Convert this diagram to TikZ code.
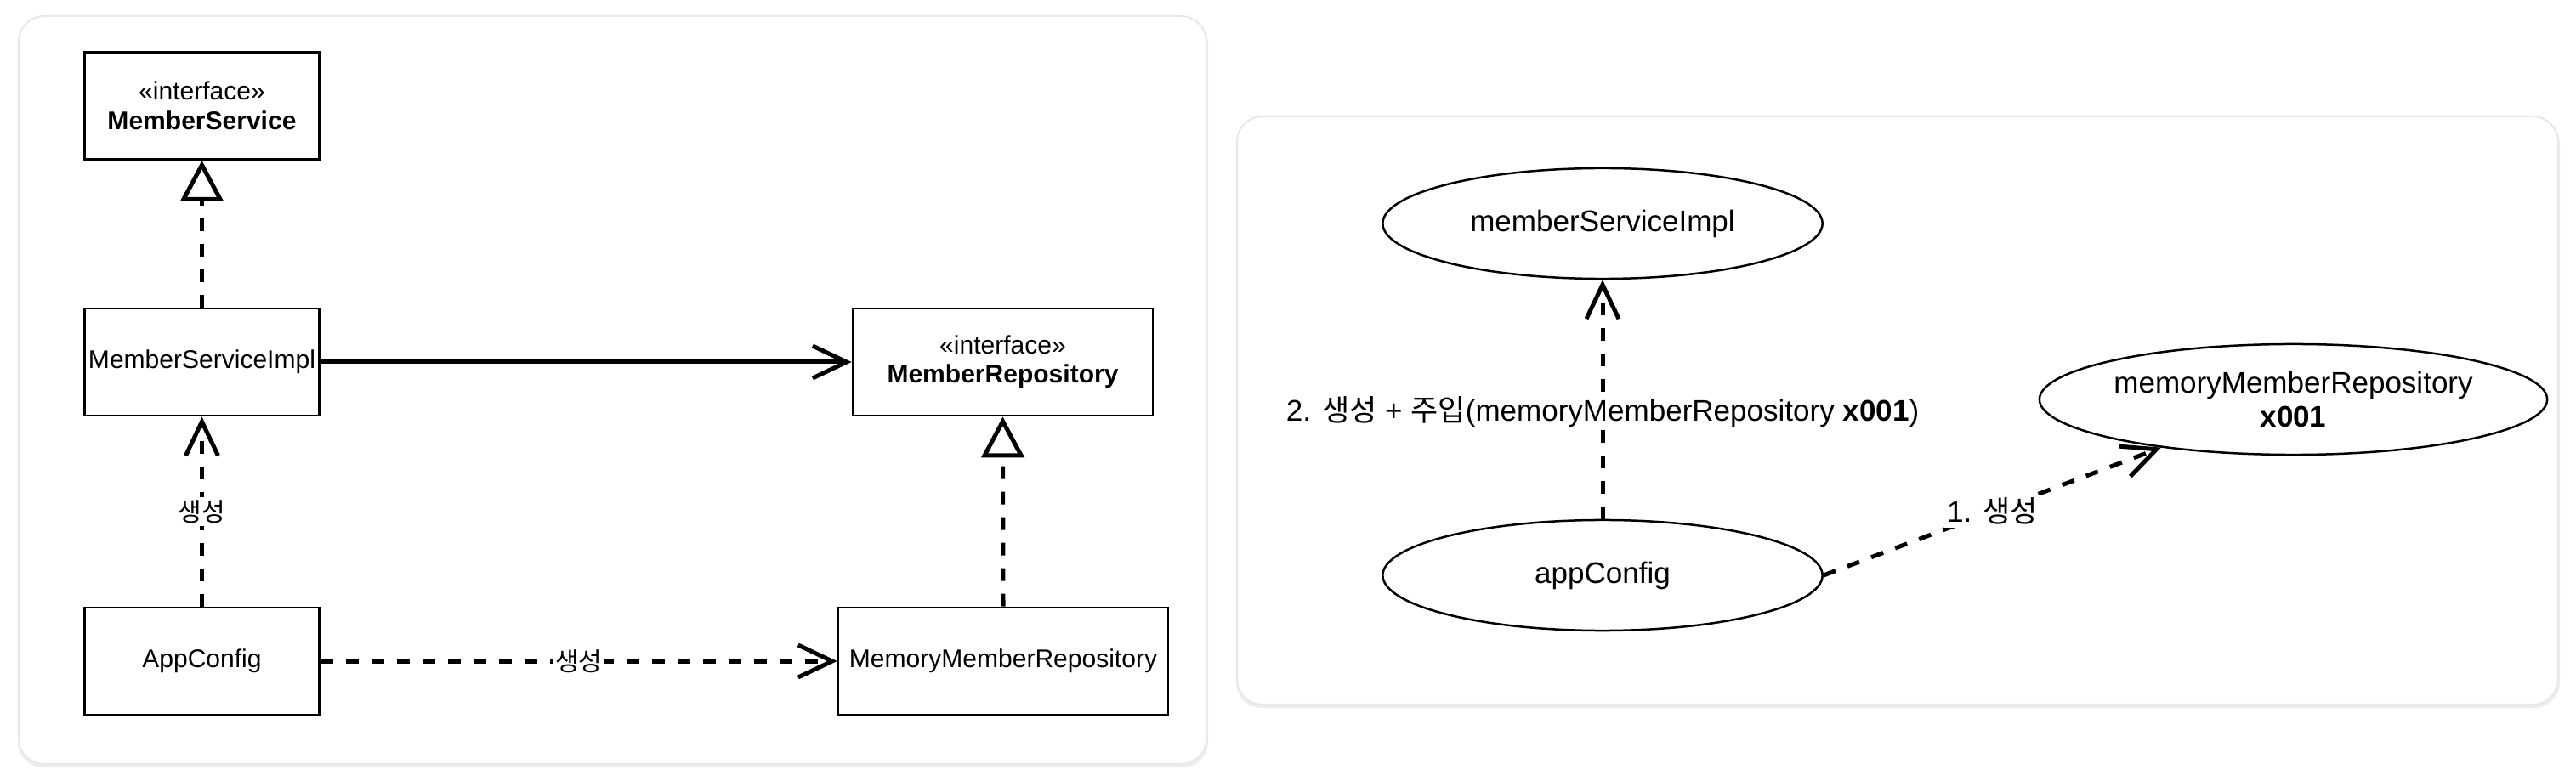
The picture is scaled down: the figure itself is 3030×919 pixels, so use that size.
\documentclass[tikz,border=0pt]{standalone}
\usepackage{fontspec}
\setmainfont{Liberation Sans}
\newfontfamily\kofont{Noto Sans CJK KR}
\usetikzlibrary{arrows.meta,shapes.geometric}
\newcommand\ko[1]{{\kofont #1}}
\newcommand\smallfs{\fontsize{8.54pt}{9.8pt}\selectfont}
\newcommand\bigfs{\fontsize{9.96pt}{11.4pt}\selectfont}
\begin{document}
\begin{tikzpicture}[x=0.01cm,y=-0.01cm,
  box/.style={draw=black, line width=0.025cm, rectangle, minimum height=1.26cm,
    inner sep=0pt, align=center, font=\smallfs, fill=white},
  oval/.style={draw=black, line width=0.025cm, ellipse, minimum width=5.17cm,
    minimum height=1.30cm, inner sep=0pt, align=center, font=\bigfs, fill=white},
  conn/.style={line width=0.05cm, line cap=butt},
  dashedconn/.style={conn, dash pattern=on 0.15cm off 0.15cm},
  openhead/.style={-{Straight Barb[length=0.4cm,width=0.38cm]}},
  realize/.style={-{Triangle[open,length=0.48cm,width=0.5cm]}},
  lblsmall/.style={fill=white, inner sep=0.03cm, font=\smallfs},
  lblbig/.style={fill=white, inner sep=0.03cm, font=\bigfs},
  panel/.style={fill=white, draw=black!9, line width=0.02cm, rounded corners=0.3cm},
  panelshadow/.style={fill=black!7, rounded corners=0.3cm}
]
% canvas
\fill[white] (0,0) rectangle (3030,919);
\useasboundingbox (0,0) rectangle (3030,919);

% panels
\fill[panelshadow] (21,22) rectangle (1421,903);
\draw[panel] (22,19) rectangle (1419,899);
\fill[panelshadow] (1454,140) rectangle (3011,833);
\draw[panel] (1455,137) rectangle (3009,829);

% ---------- left class diagram ----------
\node[box, minimum width=2.76cm] (ms)  at (237.5,124.5) {«interface»\\\textbf{MemberService}};
\node[box, minimum width=2.76cm] (msi) at (237.5,426) {MemberServiceImpl};
\node[box, minimum width=2.76cm] (ac)  at (237.5,778) {AppConfig};
\node[box, minimum width=3.53cm] (mr)  at (1179.5,426) {«interface»\\\textbf{MemberRepository}};
\node[box, minimum width=3.88cm] (mmr) at (1180,778) {MemoryMemberRepository};

\draw[dashedconn, realize] (msi.north) -- (ms.south);
\draw[dashedconn, openhead] (ac.north) -- node[lblsmall] {\ko{생성}} (msi.south);
\draw[conn, openhead] (msi.east) -- (mr.west);
\draw[dashedconn, openhead] (ac.east) -- node[lblsmall] {\ko{생성}} (mmr.west);
\draw[dashedconn, realize] (mmr.north) -- (mr.south);

% ---------- right object diagram ----------
\node[oval] (e1) at (1885,263) {memberServiceImpl};
\node[oval] (e2) at (1885,677) {appConfig};
\node[oval] (e3) at (2697.5,470) {memoryMemberRepository\\\textbf{x001}};

\draw[dashedconn, openhead] (e2.north) -- node[lblbig, pos=0.447]
  {2. \ko{생성} + \ko{주입}(memoryMemberRepository \textbf{x001})} (e1.south);
\draw[dashedconn, openhead] (e2.east) -- node[lblbig] {1. \ko{생성}} (e3.200.45);
\end{tikzpicture}
\end{document}
